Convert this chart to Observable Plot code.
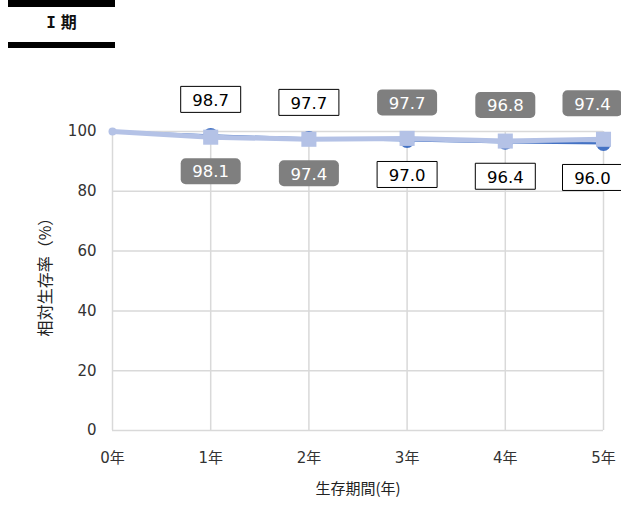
<!DOCTYPE html>
<html><head><meta charset="utf-8">
<script src="https://cdn.jsdelivr.net/npm/d3@7"></script>
<script src="https://cdn.jsdelivr.net/npm/@observablehq/plot@0.6"></script>
<style>
body{margin:0;background:#fff;font-family:"DejaVu Sans","Noto Sans CJK JP",sans-serif;}
#head{position:relative;width:621px;height:60px;}
#head .bar{position:absolute;left:8px;width:107px;background:#000;}
#head .t{position:absolute;left:8px;width:107px;top:9px;text-align:center;font-weight:bold;font-size:16px;font-family:"Noto Sans CJK JP",sans-serif;color:#111;}
#head .t .r{font-family:"DejaVu Sans Mono",monospace;font-weight:bold;margin-right:5px;}
</style></head>
<body>
<div id="head"><div class="bar" style="top:0;height:7px"></div><div class="t"><span class="r">I</span>期</div><div class="bar" style="top:42px;height:6px"></div></div>
<div id="chart"></div>
<script>
const years = [0, 1, 2, 3, 4, 5];
const yearLabels = ["0年", "1年", "2年", "3年", "4年", "5年"];
const seriesA = [100, 98.7, 97.7, 97.0, 96.4, 96.0]; // dark blue, circles, white labels
const seriesB = [100, 98.1, 97.4, 97.7, 96.8, 97.4]; // light blue, squares, gray labels
const yTicks = [0, 20, 40, 60, 80, 100];

const dataA = years.map((x, i) => ({x, v: seriesA[i], other: seriesB[i]}));
const dataB = years.map((x, i) => ({x, v: seriesB[i], other: seriesA[i]}));
const labA = dataA.filter(d => d.x > 0);
const labB = dataB.filter(d => d.x > 0);
const startA = dataA.filter(d => d.x === 0);
const startB = dataB.filter(d => d.x === 0);

const W = 60, H = 26;
const boxPlain = {draw(ctx){ ctx.rect(-W/2, -H/2, W, H); }};
const boxRound = {draw(ctx){
  const r = 5, x0 = -W/2, y0 = -H/2, x1 = W/2, y1 = H/2;
  ctx.moveTo(x0 + r, y0);
  ctx.arcTo(x1, y0, x1, y1, r);
  ctx.arcTo(x1, y1, x0, y1, r);
  ctx.arcTo(x0, y1, x0, y0, r);
  ctx.arcTo(x0, y0, x1, y0, r);
  ctx.closePath();
}};

const UP = -36, DOWN = 34;
function labelMarks(data, symbol, fill, stroke, color) {
  const marks = [];
  for (const [filt, dx] of [[d => d.x < 5, 0], [d => d.x === 5, -11]]) {
    for (const [pos, dy] of [[d => d.v >= d.other, UP], [d => d.v < d.other, DOWN]]) {
      const sub = data.filter(d => filt(d) && pos(d));
      marks.push(Plot.dot(sub, {x: "x", y: "v", symbol, r: 10, fill, stroke, strokeWidth: 1, dx, dy}));
      marks.push(Plot.text(sub, {x: "x", y: "v", text: d => d.v.toFixed(1), fill: color, fontSize: 16.5, dx, dy: dy + 1}));
    }
  }
  return marks;
}

const plot = Plot.plot({
  width: 621, height: 446,
  marginTop: 71, marginBottom: 76, marginLeft: 112, marginRight: 18,
  style: {fontFamily: '"DejaVu Sans","Noto Sans CJK JP",sans-serif', fontSize: "15px", color: "#333", background: "#fff"},
  x: {domain: [0, 5]},
  y: {domain: [0, 100]},
  marks: [
    Plot.gridX(years, {stroke: "#d9d9d9", strokeOpacity: 1, strokeWidth: 1.5}),
    Plot.gridY(yTicks, {stroke: "#d9d9d9", strokeOpacity: 1, strokeWidth: 1.5}),
    Plot.axisX(years, {tickSize: 0, tickPadding: 22, tickFormat: (d, i) => yearLabels[i], label: null, fontSize: 15, fill: "#333"}),
    Plot.axisY(yTicks, {tickSize: 0, tickPadding: 16, label: null, fontSize: 15, fill: "#333"}),
    Plot.text(["生存期間(年)"], {frameAnchor: "bottom", dy: 63, fontSize: 15, fill: "#222", fontFamily: '"Noto Sans CJK JP",sans-serif'}),
    Plot.text(["相対生存率（%）"], {frameAnchor: "left", textAnchor: "middle", lineAnchor: "middle", dx: -67, dy: -8, rotate: -90, fontSize: 16, fill: "#222", fontFamily: '"Noto Sans CJK JP",sans-serif'}),
    Plot.line(dataA, {x: "x", y: "v", stroke: "#4472c4", strokeWidth: 2.25}),
    Plot.dot(labA, {x: "x", y: "v", r: 7.5, fill: "#4472c4", stroke: "none"}),
    Plot.dot(startA, {x: "x", y: "v", r: 3, fill: "#4472c4", stroke: "none"}),
    Plot.line(dataB, {x: "x", y: "v", stroke: "#b4c2e6", strokeWidth: 5}),
    Plot.dot(labB, {x: "x", y: "v", symbol: "square", r: 8.5, fill: "#b4c2e6", stroke: "none"}),
    Plot.dot(startB, {x: "x", y: "v", r: 4, fill: "#b4c2e6", stroke: "none"}),
    ...labelMarks(labA, boxPlain, "#fff", "#000", "#000"),
    ...labelMarks(labB, boxRound, "#7f7f7f", "none", "#fff")
  ]
});
document.getElementById("chart").appendChild(plot);
</script>
</body></html>
